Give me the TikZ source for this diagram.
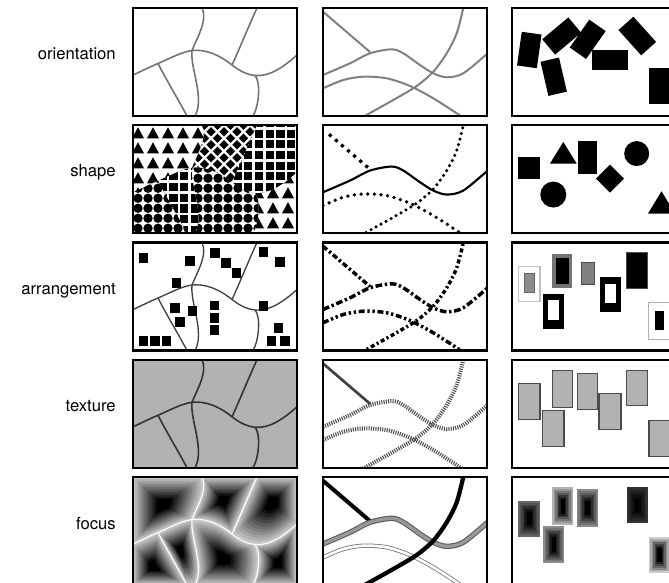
\documentclass[tikz,border=0pt]{standalone}
\usepackage{fontspec}
\setmainfont{TeX Gyre Heros}
\begin{document}
\begin{tikzpicture}[x=0.75pt,y=-0.75pt]
\tikzset{
  frame/.style={draw=black, line width=1.6pt},
  lbl/.style={anchor=base east, font=\fontsize{12.5}{15}\selectfont, inner sep=0pt},
  mapline/.style={line width=1.2pt},
}
% ---------- region paths of the map (local px, 164 x 108) ----------
\def\Rone{(0,0) -- (69,0) .. controls (75,12) and (64,30) .. (59,42.5) .. controls (47.67,44.2) and (36.33,50.74) .. (25,55.5) .. controls (16.67,59) and (8.33,63.25) .. (0,67) -- cycle}
\def\Rtwo{(69,0) -- (124,0) .. controls (117,15) and (106,42) .. (99,57) .. controls (85.67,46.3) and (72.33,41.17) .. (59,42.5) .. controls (64,30) and (75,12) .. (69,0) -- cycle}
\def\Rthree{(124,0) -- (164,0) -- (164,47) .. controls (150,59.6) and (136,68.9) .. (122,67.5) .. controls (114.33,66.7) and (106.67,63.13) .. (99,57) .. controls (106,42) and (117,15) .. (124,0) -- cycle}
\def\Rfour{(0,67) .. controls (8.33,63.25) and (16.67,59) .. (25,55.5) .. controls (34,73) and (45,91) .. (54,108) -- (0,108) -- cycle}
\def\Rfive{(25,55.5) .. controls (36.33,50.74) and (47.67,44.2) .. (59,42.5) .. controls (57,60) and (72,90) .. (62,108) -- (54,108) .. controls (45,91) and (34,73) .. (25,55.5) -- cycle}
\def\Rsix{(59,42.5) .. controls (72.33,41.17) and (85.67,46.3) .. (99,57) .. controls (106.67,63.13) and (114.33,66.7) .. (122,67.5) .. controls (128,74) and (126,98) .. (120,108) -- (62,108) .. controls (72,90) and (57,60) .. (59,42.5) -- cycle}
\def\Rseven{(122,67.5) .. controls (136,68.9) and (150,59.6) .. (164,47) -- (164,108) -- (120,108) .. controls (126,98) and (128,74) .. (122,67.5) -- cycle}
\def\maplines{(0,67) .. controls (8.33,63.25) and (16.67,59) .. (25,55.5) .. controls (36.33,50.74) and (47.67,44.2) .. (59,42.5) .. controls (72.33,41.17) and (85.67,46.3) .. (99,57) .. controls (106.67,63.13) and (114.33,66.7) .. (122,67.5) .. controls (136,68.9) and (150,59.6) .. (164,47)
 (69,0) .. controls (75,12) and (64,30) .. (59,42.5) .. controls (57,60) and (72,90) .. (62,108)
 (124,0) .. controls (117,15) and (106,42) .. (99,57)
 (25,55.5) .. controls (34,73) and (45,91) .. (54,108)
 (122,67.5) .. controls (128,74) and (126,98) .. (120,108)}
% ---------- line set ----------
\def\cA{(0,3.7) -- (47,44)}
\def\cB{plot[smooth] coordinates {(0,67) (27,55.3) (47,45.3) (68.7,41.3) (80.3,45.3) (97,57) (110.3,65.3) (123.7,69.3) (140.3,65.3) (165,45)}}
\def\cC{plot[smooth] coordinates {(0,80.3) (20.3,72) (40.3,68.7) (63.7,70.3) (87,78) (110.3,90.3) (133.7,105.3) (142,111)}}
\def\cD{plot[smooth] coordinates {(38,110) (70.3,92) (93.7,78) (110.3,63.7) (123.7,45.3) (133.7,25.3) (140.3,0)}}
% ---------- helpers ----------
\newcommand\focusregion[3]{%
  \begin{scope}
    \clip #1;
    \foreach \k in {0,...,13}{%
      \pgfmathsetmacro\scf{1-\k/14}%
      \pgfmathsetmacro\pcv{22+78*\k/11}%
      \pgfmathsetmacro\pcw{min(\pcv,100)}%
      \fill[black!\pcw, scale around={\scf:(#2,#3)}] #1;
    }
  \end{scope}}
\newcommand\rrect[5]{\fill[rotate around={#5:(#1,#2)}] (#1-#3/2,#2-#4/2) rectangle (#1+#3/2,#2+#4/2);}
\newcommand\focusbox[5]{%
  \foreach \k in {0,...,6}{%
    \pgfmathsetmacro\pcv{#5+(100-#5)*\k/6}%
    \fill[black!\pcv] (#1+\k*1.4,#2+\k*1.9) rectangle (#3-\k*1.4,#4-\k*1.9);
  }}
\newcommand\sqr[2]{\fill (#1-4.75,#2-4.75) rectangle (#1+4.75,#2+4.75);}
\newcommand\grayrect[4]{\filldraw[fill=black!30, draw=black!70, line width=0.8pt] (#1,#2) rectangle (#3,#4);}

\useasboundingbox (0,0) rectangle (669,583);
\clip (0,0) rectangle (669,583);

% ---------- labels ----------
\node[lbl] (lo) at (116,59.5) {orientation};
\node[lbl] (ls) at (116,176.5) {shape};
\node[lbl] (la) at (116,294) {arrangement};
\node[lbl] (lt) at (116,411) {texture};
\node[lbl] (lf) at (116,529) {focus};

% =================== COLUMN 1 : map ===================
% row 1 orientation
\begin{scope}[shift={(133,8)}]
  \begin{scope}\clip (0,0) rectangle (164,108);
    \draw[mapline, black!55] \maplines;
  \end{scope}
  \draw[frame] (0,0) rectangle (164,108);
\end{scope}
% row 2 shape
\begin{scope}[shift={(133,125.25)}]
  \begin{scope}\clip (0,0) rectangle (164,108);
    % triangles R1, R7
    \begin{scope}\clip \Rone;
      \foreach \i in {0,...,11}{\foreach \j in {0,...,8}{\fill (\i*15-1,\j*15+13) -- ++(12,0) -- ++(-6,-11) -- cycle;}}
    \end{scope}
    \begin{scope}\clip \Rseven;
      \foreach \i in {0,...,11}{\foreach \j in {0,...,8}{\fill (\i*15-1,\j*15+13) -- ++(12,0) -- ++(-6,-11) -- cycle;}}
    \end{scope}
    % diagonal lattice R2
    \begin{scope}\clip \Rtwo;
      \fill \Rtwo;
      \foreach \k in {-10,...,24}{\draw[white,line width=1.7pt] (\k*13,0) -- ++(112,112) (\k*13,0) -- ++(-112,112);}
    \end{scope}
    % square grid R3, R5
    \begin{scope}\clip \Rthree;
      \fill \Rthree;
      \foreach \k in {0,...,16}{\draw[white,line width=1.9pt] (\k*10.7+3,0) -- ++(0,110) (0,\k*10.7+3) -- ++(166,0);}
    \end{scope}
    \begin{scope}\clip \Rfive;
      \fill \Rfive;
      \foreach \k in {0,...,16}{\draw[white,line width=1.9pt] (\k*10.7+3,0) -- ++(0,110) (0,\k*10.7+3) -- ++(166,0);}
    \end{scope}
    % circles R4, R6
    \begin{scope}\clip \Rfour;
      \foreach \i in {0,...,16}{\foreach \j in {0,...,11}{\fill (\i*10+5,\j*10+3) circle (4.7);}}
    \end{scope}
    \begin{scope}\clip \Rsix;
      \foreach \i in {0,...,16}{\foreach \j in {0,...,11}{\fill (\i*10+5,\j*10+3) circle (4.7);}}
    \end{scope}
  \end{scope}
  \draw[frame] (0,0) rectangle (164,108);
\end{scope}
% row 3 arrangement
\begin{scope}[shift={(133,242.5)}]
  \begin{scope}\clip (0,0) rectangle (164,108);
    \draw[mapline, black!75, line width=1pt] \maplines;
    \sqr{10.5}{15.5}\sqr{57}{18.7}\sqr{43.7}{40.3}
    \sqr{82}{10.3}\sqr{93}{20.3}\sqr{103.7}{30.3}
    \sqr{130.3}{9.7}\sqr{147}{19.3}\sqr{130.3}{63.7}
    \sqr{10.3}{98.5}\sqr{22}{98.5}\sqr{33.7}{98.5}
    \sqr{42}{65.3}\sqr{59.7}{68.7}\sqr{47}{79.7}
    \sqr{81.3}{63}\sqr{81.3}{75.3}\sqr{81.3}{87.3}
    \sqr{145.7}{85.7}\sqr{138.7}{98.7}\sqr{152}{98.7}
  \end{scope}
  \draw[frame] (0,0) rectangle (164,108);
\end{scope}
% row 4 texture
\begin{scope}[shift={(133,359.75)}]
  \fill[black!30] (0,0) rectangle (164,108);
  \begin{scope}\clip (0,0) rectangle (164,108);
    \draw[mapline, black!80] \maplines;
  \end{scope}
  \draw[frame] (0,0) rectangle (164,108);
\end{scope}
% row 5 focus
\begin{scope}[shift={(133,477)}]
  \focusregion{\Rone}{30}{28}
  \focusregion{\Rtwo}{90}{24}
  \focusregion{\Rthree}{140}{25}
  \focusregion{\Rfour}{20}{90}
  \focusregion{\Rfive}{47}{74}
  \focusregion{\Rsix}{90}{82}
  \focusregion{\Rseven}{145}{86}
  \begin{scope}\clip (0,0) rectangle (164,108);
    \draw[white, line width=0.8pt] \maplines;
  \end{scope}
  \draw[frame] (0,0) rectangle (164,108);
\end{scope}

% =================== COLUMN 2 : lines ===================
% row 1
\begin{scope}[shift={(323,8)}]
  \begin{scope}\clip (0,0) rectangle (164,108);
    \draw[black!50, line width=1.5pt] \cA \cB \cC \cD;
  \end{scope}
  \draw[frame] (0,0) rectangle (164,108);
\end{scope}
% row 2
\begin{scope}[shift={(323,125.25)}]
  \begin{scope}\clip (0,0) rectangle (164,108);
    \draw[line width=2.4pt, dash pattern=on 2.4pt off 3.6pt] (6,9) -- (47,44);
    \draw[line width=1.6pt] \cB;
    \draw[line width=2.8pt, line cap=round, dash pattern=on 0pt off 5pt] \cC;
    \draw[line width=2.6pt, line cap=round, dash pattern=on 0pt off 4.3pt] \cD;
  \end{scope}
  \draw[frame] (0,0) rectangle (164,108);
\end{scope}
% row 3
\begin{scope}[shift={(323,242.5)}]
  \begin{scope}\clip (0,0) rectangle (164,108);
    \draw[line width=2.6pt, dash pattern=on 4pt off 2pt on 1.8pt off 2pt] \cA;
    \draw[line width=2.6pt, dash pattern=on 5pt off 2pt on 1.8pt off 2pt] \cB;
    \draw[line width=2.6pt, dash pattern=on 4.5pt off 2pt on 1.8pt off 2pt on 1.8pt off 2pt] \cC;
    \draw[line width=2.6pt, dash pattern=on 3pt off 2pt on 1.5pt off 2pt] \cD;
  \end{scope}
  \draw[frame] (0,0) rectangle (164,108);
\end{scope}
% row 4
\begin{scope}[shift={(323,359.75)}]
  \begin{scope}\clip (0,0) rectangle (164,108);
    \draw[black!75, line width=2pt] \cA;
    \draw[black!70, line width=3pt, dash pattern=on 0.8pt off 0.9pt] \cB \cC \cD;
  \end{scope}
  \draw[frame] (0,0) rectangle (164,108);
\end{scope}
% row 5
\begin{scope}[shift={(323,477)}]
  \begin{scope}\clip (0,0) rectangle (164,108);
    \draw[line width=3pt] \cA;
    \draw[draw=black!65, line width=0.8pt, double=black!40, double distance=2.4pt] \cB;
    \draw[draw=black!55, line width=0.6pt, double=white, double distance=2pt] \cC;
    \draw[line width=3.2pt] \cD;
  \end{scope}
  \draw[frame] (0,0) rectangle (164,108);
\end{scope}

% =================== COLUMN 3 : points ===================
% row 1
\begin{scope}[shift={(512,8)}]
  \rrect{17.3}{42}{20}{34}{-8}
  \rrect{41.7}{68.7}{19}{35}{13}
  \rrect{49.7}{28}{20}{34}{-50}
  \rrect{75.7}{31.3}{20}{34}{-35}
  \rrect{98}{52}{20}{36}{90}
  \rrect{125.3}{28}{20}{34}{42}
  \rrect{147}{78}{20}{36}{0}
  \draw[frame] (0,0) rectangle (164,108);
\end{scope}
% row 2
\begin{scope}[shift={(512,125.25)}]
  \fill (6.3,31.7) rectangle (28,53.3);
  \fill (38,38.3) -- (64.7,38.3) -- (51.3,16.7) -- cycle;
  \fill (65.7,15.7) rectangle (84.7,48.3);
  \fill (98,39.3) -- (112,53.3) -- (98,67.3) -- (84,53.3) -- cycle;
  \fill (124.7,28.3) circle (12.5);
  \fill (41.3,69.3) circle (13);
  \fill (136,88.3) -- (163,88.3) -- (149.5,66) -- cycle;
  \draw[frame] (0,0) rectangle (164,108);
\end{scope}
% row 3
\begin{scope}[shift={(512,242.5)}]
  \filldraw[fill=white, draw=black!25, line width=0.8pt] (6.3,23.7) rectangle (28,58.7);
  \filldraw[fill=black!45, draw=black!60, line width=0.6pt] (12.3,31.3) rectangle (22.3,50.3);
  \fill[black!55] (40.3,11) rectangle (60.3,45.3);
  \fill (43.5,15) rectangle (57,41);
  \filldraw[fill=black!50, draw=black!70, line width=0.6pt] (69,19.7) rectangle (82.3,42);
  \fill (31.3,51) rectangle (52.3,86.3);
  \fill[white] (36.3,57) rectangle (47,77.7);
  \fill (88,34.3) rectangle (109,69.7);
  \fill[white] (93,41) rectangle (103.7,60.3);
  \filldraw[fill=black, draw=black!70, line width=0.6pt] (114.7,9.7) rectangle (135.7,46.3);
  \filldraw[fill=white, draw=black!30, line width=0.8pt] (136.3,60.3) rectangle (158,97);
  \fill (143,68.7) rectangle (152.3,87);
  \draw[frame] (0,0) rectangle (164,108);
\end{scope}
% row 4
\begin{scope}[shift={(512,359.75)}]
  \grayrect{6.3}{24}{28}{60}
  \grayrect{30.3}{51}{52}{86.7}
  \grayrect{40.3}{11}{60.3}{47.3}
  \grayrect{65.3}{13.3}{85.3}{50}
  \grayrect{87}{34}{109}{69.3}
  \grayrect{114.7}{10.7}{135.3}{45.7}
  \grayrect{137}{61}{158}{96.7}
  \draw[frame] (0,0) rectangle (164,108);
\end{scope}
% row 5
\begin{scope}[shift={(512,477)}]
  \focusbox{6.3}{23.7}{28}{59.7}{60}
  \focusbox{31.3}{48.7}{52.3}{86.3}{45}
  \focusbox{40.3}{10.3}{61.3}{48}{30}
  \focusbox{64.7}{12.3}{86.3}{49.7}{45}
  \focusbox{114.7}{10.3}{135.7}{45.7}{80}
  \focusbox{137}{59.7}{158}{96.3}{20}
  \draw[frame] (0,0) rectangle (164,108);
\end{scope}
\end{tikzpicture}
\end{document}
